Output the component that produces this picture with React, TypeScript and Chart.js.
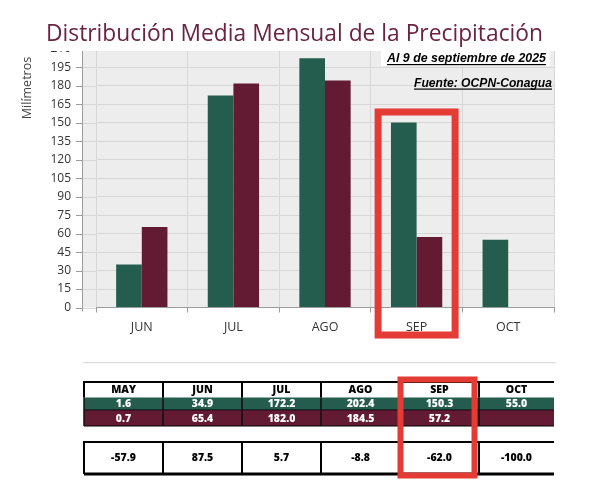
import React, { useEffect, useRef } from "react";
import { Chart, registerables } from "chart.js";

Chart.register(...registerables);

// Monthly precipitation (mm): climatological normal vs. observed 2025
const tableMonths = ["MAY", "JUN", "JUL", "AGO", "SEP", "OCT"];
const normalMm: (number | null)[] = [1.6, 34.9, 172.2, 202.4, 150.3, 55.0];
const observedMm: (number | null)[] = [0.7, 65.4, 182.0, 184.5, 57.2, null];
const anomalyPct: (number | null)[] = [-57.9, 87.5, 5.7, -8.8, -62.0, -100.0];

// The bar chart shows June onwards
const chartMonths = tableMonths.slice(1);
const chartNormal = normalMm.slice(1);
const chartObserved = observedMm.slice(1);

const yTickStep = 15;
const yMax = 210;

const TITLE = "Distribución Media Mensual de la Precipitación";
const Y_TITLE = "Milímetros";
const NOTE_DATE = "Al 9 de septiembre de 2025";
const NOTE_SOURCE = "Fuente: OCPN-Conagua";
const HIGHLIGHT_MONTH = "SEP";

const GREEN = "#245c4e";
const MAROON = "#621b33";
const TITLE_COLOR = "#6b2440";
const PLOT_BG = "#ededed";
const GRID = "#d7d7d7";
const AXIS = "#9c9c9c";
const RED = "#e53b35";
const FONT = "'Open Sans', 'DejaVu Sans', sans-serif";

const AXIS_X = 82;

function fitText(
  ctx: CanvasRenderingContext2D,
  text: string,
  x: number,
  y: number,
  width: number
) {
  const w = ctx.measureText(text).width;
  ctx.save();
  ctx.translate(x, y);
  ctx.scale(width / w, 1);
  ctx.textAlign = "left";
  ctx.fillText(text, 0, 0);
  ctx.restore();
}

const fmt = (v: number | null) => (v == null ? "" : v.toFixed(1));

const decor = {
  id: "decor",
  beforeDraw(chart: any) {
    const { ctx, chartArea: a } = chart;
    ctx.save();
    ctx.fillStyle = PLOT_BG;
    ctx.fillRect(AXIS_X, a.top, a.right - AXIS_X, a.bottom - a.top);
    ctx.restore();
  },
  beforeDatasetsDraw(chart: any) {
    const { ctx, chartArea: a, scales } = chart;
    const ys = scales.y;
    ctx.save();
    ctx.lineWidth = 1;
    // gridlines continue left to the offset value axis
    ctx.strokeStyle = GRID;
    for (const t of ys.ticks) {
      const py = Math.round(ys.getPixelForValue(t.value)) + 0.5;
      ctx.beginPath();
      ctx.moveTo(AXIS_X, py);
      ctx.lineTo(a.left, py);
      ctx.stroke();
    }
    ctx.strokeStyle = AXIS;
    ctx.beginPath();
    ctx.moveTo(AXIS_X + 0.5, a.top);
    ctx.lineTo(AXIS_X + 0.5, a.bottom + 4);
    ctx.stroke();
    for (const t of ys.ticks) {
      const py = Math.round(ys.getPixelForValue(t.value)) + 0.5;
      ctx.beginPath();
      ctx.moveTo(AXIS_X - 6, py);
      ctx.lineTo(AXIS_X, py);
      ctx.stroke();
    }
    ctx.restore();
  },
  afterDraw(chart: any) {
    const { ctx, chartArea: a, scales } = chart;
    const xs = scales.x;
    ctx.save();

    // white band under the title
    ctx.fillStyle = "#ffffff";
    ctx.fillRect(0, 43, chart.width, a.top + 2 - 43);

    // title
    ctx.fillStyle = TITLE_COLOR;
    ctx.font = `400 23.5px ${FONT}`;
    ctx.textBaseline = "alphabetic";
    fitText(ctx, TITLE, 46, 40.5, 497);

    // value axis title
    ctx.save();
    ctx.translate(31, 88);
    ctx.rotate(-Math.PI / 2);
    ctx.fillStyle = "#444";
    ctx.font = `400 12.5px ${FONT}`;
    ctx.textAlign = "center";
    ctx.textBaseline = "alphabetic";
    ctx.fillText(Y_TITLE, 0, 0);
    ctx.restore();

    // notes
    ctx.fillStyle = "#ffffff";
    ctx.fillRect(381, a.top + 2, 169, 15);
    ctx.fillStyle = "#000";
    ctx.font = `italic 700 13px 'Liberation Sans', Arial, sans-serif`;
    fitText(ctx, NOTE_DATE, 387, 62, 159);
    fitText(ctx, NOTE_SOURCE, 414, 86.5, 138);
    ctx.fillRect(387, 64, 159, 1.2);
    ctx.fillRect(414, 88.5, 138, 1.2);

    // highlight on the chart category
    const hi = chartMonths.indexOf(HIGHLIGHT_MONTH);
    const cx = xs.getPixelForValue(hi);
    ctx.strokeStyle = RED;
    ctx.lineWidth = 7;
    ctx.strokeRect(cx - 38.5, 112, 77, 223);

    // separator above the table
    ctx.fillStyle = "#dedede";
    ctx.fillRect(83, 362, 473, 1.3);

    // table
    const colX = [84, 163, 242, 321, 400, 479, 554];
    const hTop = 382, gTop = 397.5, mTop = 410, mBot = 426;
    const dTop = 442, dBot = 474;
    ctx.fillStyle = GREEN;
    ctx.fillRect(colX[0], gTop, colX[6] - colX[0], mTop - gTop);
    ctx.fillStyle = MAROON;
    ctx.fillRect(colX[0], mTop, colX[6] - colX[0], mBot - mTop);

    ctx.fillStyle = "#000";
    ctx.fillRect(colX[0], hTop - 1, colX[6] - colX[0], 2);
    ctx.fillRect(colX[0], mTop - 0.5, colX[6] - colX[0], 0.8);
    ctx.fillRect(colX[0], mBot - 0.5, colX[6] - colX[0], 1);
    ctx.fillRect(colX[0], dTop - 1, colX[6] - colX[0], 2);
    ctx.fillRect(colX[0], dBot - 1.5, colX[6] - colX[0], 3);
    for (let i = 0; i < 6; i++) {
      ctx.fillStyle = "#000";
      ctx.fillRect(colX[i] - 1, hTop - 1, 2, gTop - hTop + 1);
      ctx.fillStyle = "#111";
      ctx.fillRect(colX[i] - 0.75, gTop, 1.5, mBot - gTop);
      ctx.fillStyle = "#000";
      ctx.fillRect(colX[i] - 1, dTop - 1, 2, dBot - dTop + 1);
    }

    ctx.font = `800 10.5px ${FONT}`;
    ctx.textAlign = "center";
    ctx.textBaseline = "middle";
    for (let i = 0; i < 6; i++) {
      const mx = (colX[i] + colX[i + 1]) / 2;
      ctx.fillStyle = "#000";
      ctx.fillText(tableMonths[i], mx, (hTop + gTop) / 2 + 0.5);
      ctx.fillStyle = "#fff";
      ctx.fillText(fmt(normalMm[i]), mx, (gTop + mTop) / 2 + 0.5);
      ctx.fillText(fmt(observedMm[i]), mx, (mTop + mBot) / 2 + 1);
      ctx.fillStyle = "#000";
      ctx.fillText(fmt(anomalyPct[i]), mx, (dTop + dBot) / 2 + 0.5);
    }

    // highlight on the table column
    const ti = tableMonths.indexOf(HIGHLIGHT_MONTH);
    ctx.strokeStyle = RED;
    ctx.lineWidth = 6;
    ctx.strokeRect(colX[ti] + 0.5, 379.5, colX[ti + 1] - colX[ti] - 5, 96);

    ctx.restore();
  },
};

export default function App() {
  const ref = useRef<HTMLCanvasElement | null>(null);

  useEffect(() => {
    if (!ref.current) return;
    const chart = new Chart(ref.current, {
      type: "bar",
      data: {
        labels: chartMonths,
        datasets: [
          {
            label: "Normal",
            data: chartNormal,
            backgroundColor: GREEN,
            categoryPercentage: 0.56,
            barPercentage: 1,
          },
          {
            label: "2025",
            data: chartObserved,
            backgroundColor: MAROON,
            categoryPercentage: 0.56,
            barPercentage: 1,
          },
        ],
      },
      options: {
        responsive: false,
        animation: false,
        devicePixelRatio: 1,
        layout: { padding: { top: 49, right: 49, left: 0, bottom: 0 } },
        plugins: {
          legend: { display: false },
          tooltip: { enabled: false },
          title: { display: false },
        },
        scales: {
          x: {
            afterFit: (s: any) => {
              s.height = 497 - 307.5;
            },
            grid: {
              color: GRID,
              tickColor: AXIS,
              tickLength: 5,
              offset: true,
            },
            border: { color: AXIS },
            ticks: {
              color: "#333",
              font: { family: FONT, size: 12.5 },
              padding: 7,
            },
          },
          y: {
            min: 0,
            max: yMax,
            afterFit: (s: any) => {
              s.width = 96;
            },
            grid: { color: GRID, drawTicks: false },
            border: { display: false },
            ticks: {
              stepSize: yTickStep,
              color: "#333",
              font: { family: FONT, size: 12 },
              padding: 25,
            },
          },
        },
      },
      plugins: [decor],
    });
    return () => chart.destroy();
  }, []);

  return (
    <div style={{ position: "relative", margin: "-8px", width: 603, height: 497, background: "#fff" }}>
      <canvas ref={ref} width={603} height={497} style={{ display: "block", width: 603, height: 497 }} />
    </div>
  );
}
